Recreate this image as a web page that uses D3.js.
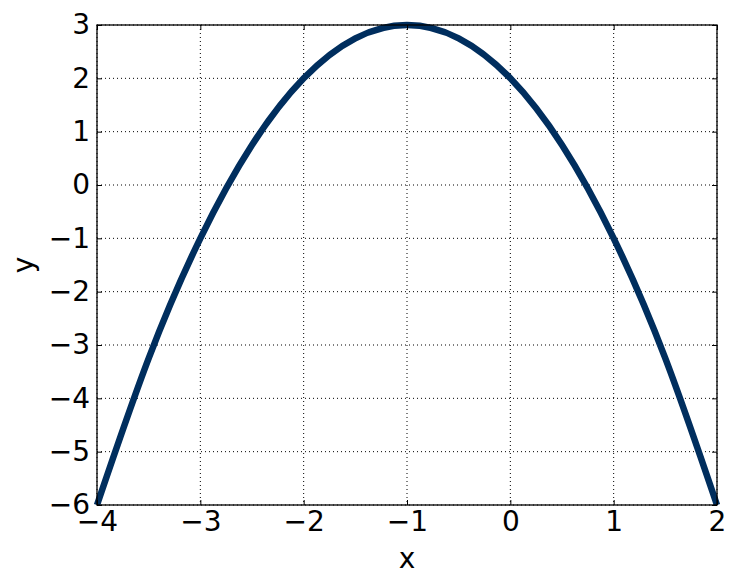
<!DOCTYPE html>
<html>
<head>
<meta charset="utf-8">
<script src="https://cdn.jsdelivr.net/npm/d3@7"></script>
<style>
  html, body { margin: 0; padding: 0; background: #fff; }
  svg text { font-family: "DejaVu Sans", sans-serif; fill: #000; }
</style>
</head>
<body>
<div id="chart"></div>
<script>
// values at half-unit steps
const xValues = [-4, -3.5, -3, -2.5, -2, -1.5, -1, -0.5, 0, 0.5, 1, 1.5, 2];
const yValues = [-6, -3.25, -1, 0.75, 2, 2.75, 3, 2.75, 2, 0.75, -1, -3.25, -6];
const xTicks = [-4, -3, -2, -1, 0, 1, 2];
const yTicks = [-6, -5, -4, -3, -2, -1, 0, 1, 2, 3];

const width = 736, height = 585;
const margin = { top: 25, right: 19, bottom: 80, left: 97 };
const iw = width - margin.left - margin.right;
const ih = height - margin.top - margin.bottom;
const fontSize = 28;

const svg = d3.select('#chart').append('svg')
  .attr('width', width)
  .attr('height', height);

const g = svg.append('g').attr('transform', `translate(${margin.left},${margin.top})`);

const x = d3.scaleLinear().domain([-4, 2]).range([0, iw]);
const y = d3.scaleLinear().domain([-6, 3]).range([ih, 0]);

const fmt = d => (d < 0 ? '\u2212' + Math.abs(d) : String(d));

// grid
g.append('g').selectAll('line').data(xTicks).join('line')
  .attr('x1', d => x(d)).attr('x2', d => x(d))
  .attr('y1', 0).attr('y2', ih)
  .attr('stroke', '#000').attr('stroke-width', 1)
  .attr('stroke-dasharray', '1,3');
g.append('g').selectAll('line').data(yTicks).join('line')
  .attr('x1', 0).attr('x2', iw)
  .attr('y1', d => y(d)).attr('y2', d => y(d))
  .attr('stroke', '#000').attr('stroke-width', 1)
  .attr('stroke-dasharray', '1,3');

// curve
const data = xValues.map((v, i) => ({ x: v, y: yValues[i] }));
g.append('path')
  .datum(data)
  .attr('fill', 'none')
  .attr('stroke', '#002e5e')
  .attr('stroke-width', 6.5)
  .attr('d', d3.line().x(d => x(d.x)).y(d => y(d.y)).curve(d3.curveNatural));

// axes with inward ticks (bottom/left labelled, top/right bare)
const styleAxis = sel => {
  sel.attr('font-size', null).attr('font-family', null);
  sel.select('.domain').remove();
  sel.selectAll('.tick line').attr('stroke', '#000');
  sel.selectAll('text').attr('font-size', fontSize).attr('fill', '#000');
};

g.append('g').attr('transform', `translate(0,${ih})`)
  .call(d3.axisBottom(x).tickValues(xTicks).tickFormat(fmt).tickSizeInner(-5).tickSizeOuter(0).tickPadding(6))
  .call(styleAxis);
g.append('g')
  .call(d3.axisLeft(y).tickValues(yTicks).tickFormat(fmt).tickSizeInner(-5).tickSizeOuter(0).tickPadding(7))
  .call(styleAxis);
g.append('g')
  .call(d3.axisTop(x).tickValues(xTicks).tickFormat('').tickSizeInner(-5).tickSizeOuter(0))
  .call(styleAxis);
g.append('g').attr('transform', `translate(${iw},0)`)
  .call(d3.axisRight(y).tickValues(yTicks).tickFormat('').tickSizeInner(-5).tickSizeOuter(0))
  .call(styleAxis);

// frame
g.append('rect')
  .attr('width', iw).attr('height', ih)
  .attr('fill', 'none').attr('stroke', '#000').attr('stroke-width', 1.3);

// axis labels
svg.append('text')
  .attr('x', margin.left + iw / 2).attr('y', 568)
  .attr('text-anchor', 'middle').attr('font-size', fontSize)
  .text('x');
svg.append('text')
  .attr('transform', `translate(33,${margin.top + ih / 2}) rotate(-90)`)
  .attr('text-anchor', 'middle').attr('font-size', fontSize)
  .text('y');
</script>
</body>
</html>
